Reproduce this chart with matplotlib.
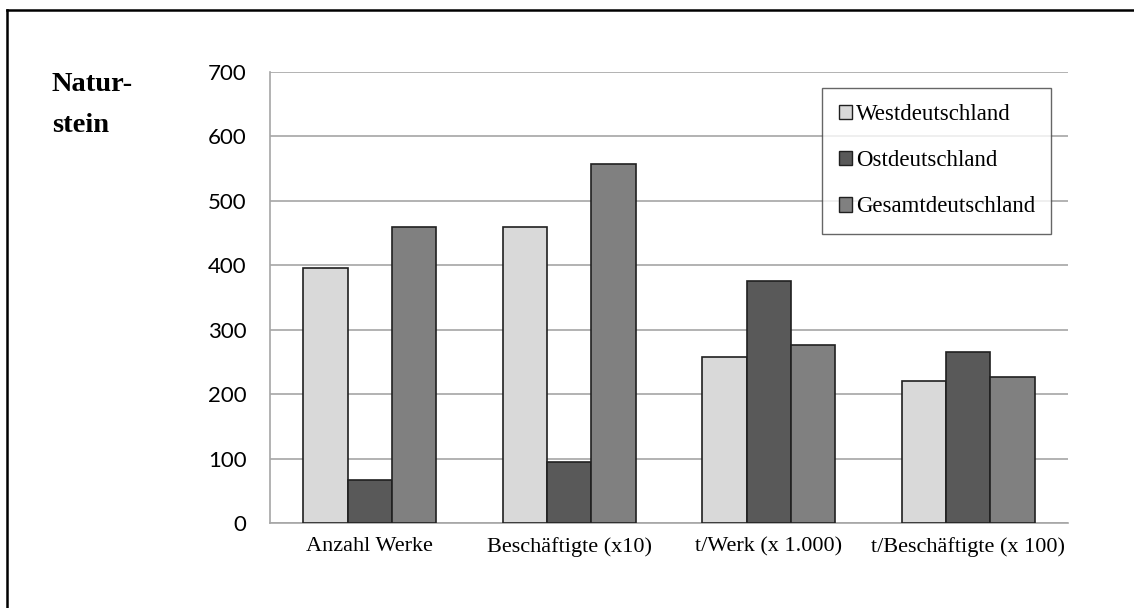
import numpy as np
import matplotlib.pyplot as plt
from matplotlib.lines import Line2D

categories = ['Anzahl Werke', 'Beschäftigte (x10)', 't/Werk (x 1.000)', 't/Beschäftigte (x 100)']
series = ['Westdeutschland', 'Ostdeutschland', 'Gesamtdeutschland']
west = [396, 460, 258, 220]
ost = [66, 94, 375, 265]
gesamt = [460, 557, 276, 227]
colors = ['#d9d9d9', '#595959', '#808080']

W, H = 1134, 608
fig = plt.figure(figsize=(W / 100, H / 100), dpi=100)
ax = fig.add_axes([270 / W, 1 - 523 / H, (1068 - 270) / W, (523 - 72) / H])

x = np.arange(len(categories))
bw = 1 / 4.5
for i, (vals, c, name) in enumerate(zip([west, ost, gesamt], colors, series)):
    ax.bar(x + (i - 1) * bw, vals, bw, color=c, edgecolor='#202020', linewidth=1.2, label=name, zorder=3)

ax.set_xlim(-0.5, 3.5)
ax.set_ylim(0, 700)
ax.set_yticks(range(0, 701, 100))
ax.yaxis.grid(True, color='#a6a6a6', linewidth=1.2, zorder=0)
ax.tick_params(length=0)
ax.tick_params(axis='y', pad=17)
ax.tick_params(axis='x', pad=10)
for s in ['top', 'right']:
    ax.spines[s].set_visible(False)
for s in ['left', 'bottom']:
    ax.spines[s].set_color('#a6a6a6')
    ax.spines[s].set_linewidth(1.2)
ax.set_xticks(x)
ax.set_xticklabels(categories, family='Liberation Serif', fontsize=16)
for lab in ax.get_yticklabels():
    lab.set_family('Lato')
    lab.set_fontsize(16)

leg = ax.legend(loc='upper right', bbox_to_anchor=((1051 - 270) / 798, (523 - 88) / 451),
                prop={'family': 'Liberation Serif', 'size': 16.5}, frameon=True, fancybox=False,
                edgecolor='#404040', labelspacing=1.1, handlelength=0.6, handleheight=0.6,
                handletextpad=0.15, borderpad=0.7, borderaxespad=0)
leg.get_frame().set_linewidth(1.0)
for h in leg.legend_handles:
    h.set_linewidth(1.0)

fig.text(52 / W, 1 - 91 / H, 'Natur-', family='Liberation Serif', fontweight='bold',
         fontsize=20.5, va='baseline', ha='left')
fig.text(52 / W, 1 - 132 / H, 'stein', family='Liberation Serif', fontweight='bold',
         fontsize=20.5, va='baseline', ha='left')

fig.add_artist(Line2D([7 / W, 7 / W], [0, 1 - 10 / H], color='black', linewidth=1.8, transform=fig.transFigure))
fig.add_artist(Line2D([7 / W, 1], [1 - 10 / H, 1 - 10 / H], color='black', linewidth=1.8, transform=fig.transFigure))

fig.savefig('out.png', dpi=100)
